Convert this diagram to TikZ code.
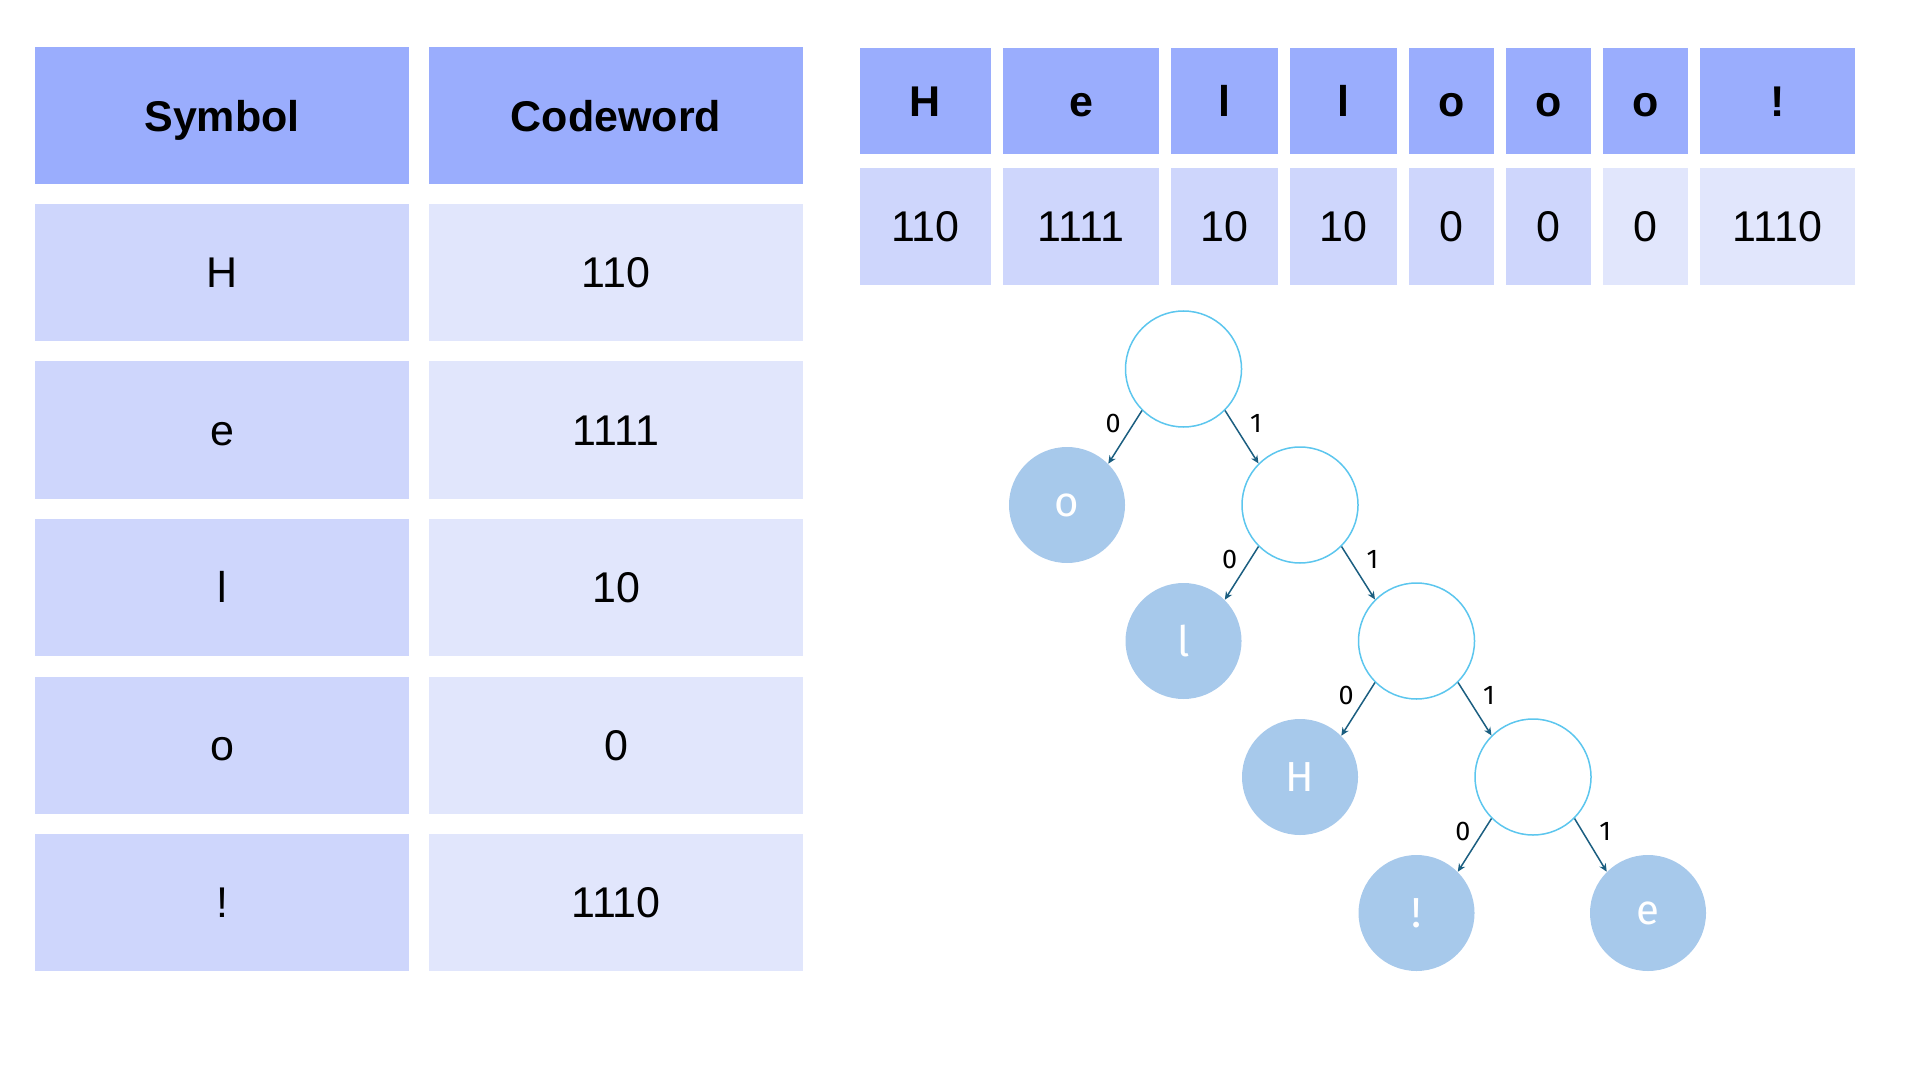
\documentclass[tikz,border=0pt]{standalone}
\usepackage{fontspec}
\setmainfont{Liberation Sans}
\newfontfamily\treefont{Fira Sans}
\usetikzlibrary{arrows.meta}
\definecolor{hdr}{RGB}{154,173,253}
\definecolor{lightA}{RGB}{206,214,252}
\definecolor{lightB}{RGB}{225,230,252}
\definecolor{leafc}{RGB}{167,201,235}
\definecolor{ringc}{RGB}{92,198,238}
\definecolor{edgec}{RGB}{27,94,128}
\begin{document}
\begin{tikzpicture}[x=0.5pt,y=-0.5pt,
  cellbase/.style={rectangle, inner sep=0pt, text=black, text height=15.4pt, text depth=0pt, font=\fontsize{21.5pt}{25pt}\selectfont},
  bigcell/.style={cellbase, minimum width=187pt, minimum height=68.5pt},
  hdrcell/.style={fill=hdr, font=\fontsize{21.5pt}{25pt}\selectfont\bfseries},
  acell/.style={fill=lightA},
  bcell/.style={fill=lightB},
  topH/.style={cellbase, minimum height=53pt},
  topR/.style={cellbase, minimum height=58.5pt},
  inner/.style={circle, draw=ringc, line width=0.75pt, fill=white, minimum size=58pt, inner sep=0pt},
  leaf/.style={circle, fill=leafc, minimum size=58pt, inner sep=0pt, text=white, font=\treefont\fontsize{21pt}{24pt}\selectfont},
  edge/.style={draw=edgec, line width=0.75pt, -{Stealth[length=4pt,width=3.6pt]}},
  bit/.style={inner sep=0pt, font=\treefont\fontsize{13.5pt}{15pt}\selectfont}
]
\useasboundingbox (0,0) rectangle (1920,1080);

% left table
\node[bigcell,hdrcell] (hs) at (222,115.7) {Symbol};
\node[bigcell,hdrcell] (hc) at (616,115.7) {Codeword};
\node[bigcell,acell] (s1) at (222,272.5) {H};
\node[bigcell,bcell] (c1) at (616,272.5) {110};
\node[bigcell,acell] (s2) at (222,430) {e};
\node[bigcell,bcell] (c2) at (616,430) {1111};
\node[bigcell,acell] (s3) at (222,587.5) {l};
\node[bigcell,bcell] (c3) at (616,587.5) {10};
\node[bigcell,acell] (s4) at (222,745) {o};
\node[bigcell,bcell] (c4) at (616,745) {0};
\node[bigcell,acell] (s5) at (222,902.5) {!};
\node[bigcell,bcell] (c5) at (616,902.5) {1110};

% top table
\node[topH,hdrcell,minimum width=65.5pt] (t1) at (925.5,101) {H};
\node[topH,hdrcell,minimum width=78pt] (t2) at (1081,101) {e};
\node[topH,hdrcell,minimum width=53.5pt] (t3) at (1224.5,101) {l};
\node[topH,hdrcell,minimum width=53.5pt] (t4) at (1343.5,101) {l};
\node[topH,hdrcell,minimum width=42.5pt] (t5) at (1451.5,101) {o};
\node[topH,hdrcell,minimum width=42.5pt] (t6) at (1548.5,101) {o};
\node[topH,hdrcell,minimum width=42.5pt] (t7) at (1645.5,101) {o};
\node[topH,hdrcell,minimum width=77.5pt] (t8) at (1777.5,101) {!};
\node[topR,acell,minimum width=65.5pt] (b1) at (925.5,226.4) {110};
\node[topR,acell,minimum width=78pt] (b2) at (1081,226.4) {1111};
\node[topR,acell,minimum width=53.5pt] (b3) at (1224.5,226.4) {10};
\node[topR,acell,minimum width=53.5pt] (b4) at (1343.5,226.4) {10};
\node[topR,acell,minimum width=42.5pt] (b5) at (1451.5,226.4) {0};
\node[topR,acell,minimum width=42.5pt] (b6) at (1548.5,226.4) {0};
\node[topR,bcell,minimum width=42.5pt] (b7) at (1645.5,226.4) {0};
\node[topR,bcell,minimum width=77.5pt] (b8) at (1777.5,226.4) {1110};

% tree
\node[inner] (n1) at (1183.5,369) {};
\node[leaf]  (lo) at (1067,505) {o};
\node[inner] (n2) at (1300,505) {};
\node[leaf]  (ll) at (1183.5,641) {l};
\node[inner] (n3) at (1416.5,641) {};
\node[leaf]  (lH) at (1300,777) {H};
\node[inner] (n4) at (1533,777) {};
\node[leaf]  (lx) at (1416.5,913) {!};
\node[leaf]  (le) at (1648,913) {e};

\foreach \p/\a/\b in {n1/lo/n2, n2/ll/n3, n3/lH/n4, n4/lx/le}{
  \draw[edge] (\p.south west) -- node[bit, pos=0.25, left=6pt] {0} (\a.north east);
  \draw[edge] (\p.south east) -- node[bit, pos=0.25, right=8pt] {1} (\b.north west);
}
\end{tikzpicture}
\end{document}
